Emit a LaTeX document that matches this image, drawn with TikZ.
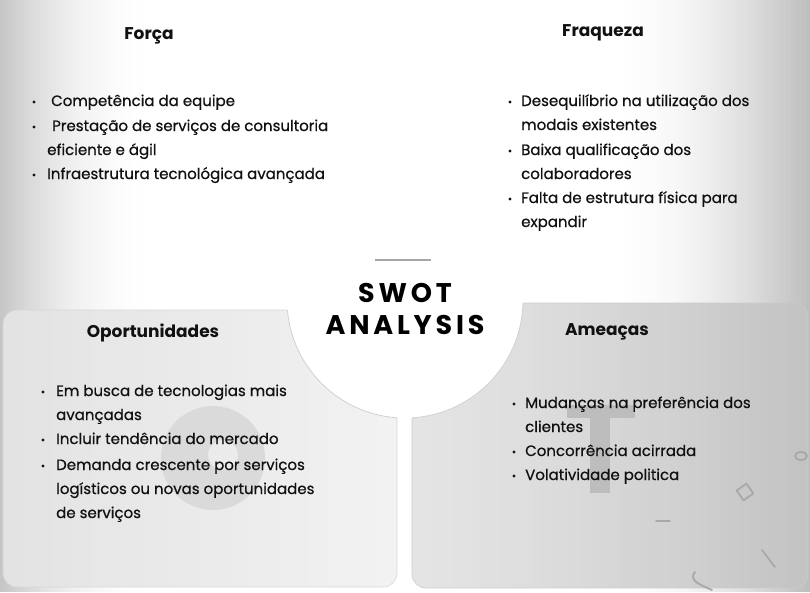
\documentclass[tikz,border=0pt]{standalone}
\usepackage{fontspec}
\setmainfont{Poppins}
\definecolor{edgegray}{HTML}{C6C6C6}
\definecolor{rightgray}{HTML}{BEBEBE}
\definecolor{lpanA}{HTML}{E3E3E3}
\definecolor{lpanB}{HTML}{F2F2F2}
\definecolor{rpanA}{HTML}{E4E4E4}
\definecolor{rpanB}{HTML}{C3C3C3}
\definecolor{wmark}{HTML}{DADADA}
\definecolor{tmark}{HTML}{BDBDBD}
\definecolor{deco}{HTML}{A8A8A8}
\definecolor{ink}{HTML}{111111}
\begin{document}
\begin{tikzpicture}[x=1pt,y=-1pt,
  txt/.style={anchor=base west, inner sep=0pt, text=ink, font=\fontsize{15}{18}\selectfont\addfontfeature{FakeBold=0.7}},
  head/.style={anchor=base, inner sep=0pt, text=ink, font=\fontsize{17}{19}\selectfont\bfseries},
  title/.style={anchor=base, inner sep=0pt, text=black, font=\fontsize{27}{30}\selectfont\bfseries\addfontfeature{LetterSpace=14}},
  dot/.style={fill=ink},
  panel/.style={rounded corners=14pt},
  decoline/.style={draw=deco, line width=1.8pt, line cap=round, line join=round}]
\useasboundingbox (0,0) rectangle (810,592);
% background
\fill[white] (0,0) rectangle (810,592);
\foreach \i in {0,...,39}{
  \pgfmathsetmacro\p{100*(1-\i/40)^2.2}
  \fill[edgegray!\p!white] (\i*4,0) rectangle (\i*4+4.5,592);
}
\foreach \i in {0,...,49}{
  \pgfmathsetmacro\p{100*(1-\i/50)^1.9}
  \fill[rightgray!\p!white] (810-\i*4-4.5,0) rectangle (810-\i*4,592);
}
% left panel
\begin{scope}
\clip[panel] (3,310) rectangle (397,587);
\foreach \i in {0,...,39}{
  \pgfmathsetmacro\p{100*\i/39}
  \fill[lpanB!\p!lpanA] (3+\i*9.85,310) rectangle (3+\i*9.85+10.5,587);
}
\end{scope}
\draw[panel, edgegray!70, line width=0.6pt] (3,310) rectangle (397,587);
% right panel
\begin{scope}
\clip[panel] (412,303) rectangle (808,588);
\foreach \i in {0,...,39}{
  \pgfmathsetmacro\p{100*(\i/39)^1.3}
  \fill[rpanB!\p!rpanA] (412+\i*9.9,303) rectangle (412+\i*9.9+10.5,588);
}
\end{scope}
\draw[panel, edgegray!90, line width=0.6pt] (412,303) rectangle (808,588);
% watermark O
\fill[wmark, even odd rule] (213,458) circle (52) (223,455) circle (15);
% watermark T
\fill[tmark] (567,405) rectangle (635,418);
\fill[tmark] (590,418) rectangle (610,493);
% decorations
\draw[decoline] (801,456) ellipse (6 and 4);
\draw[decoline, rotate around={35:(745,492)}] (739,486) rectangle (751,498);
\draw[decoline] (656,521) -- (670,521);
\draw[decoline] (762,550) -- (775,567);
\draw[decoline] (695,572) .. controls (688,580) and (700,585) .. (712,590);
% central circle
\fill[white] (405,300) circle (118);
\begin{scope}
\clip (3,310) rectangle (397,587) (412,303) rectangle (808,588);
\draw[edgegray!80, line width=0.8pt] (405,300) circle (118);
\end{scope}
\draw[gray!70, line width=1.2pt] (375,260) -- (431,260);
\node[title] (swot) at (405,302) {SWOT};
\node[title] (analysis) at (405,334) {ANALYSIS};
% Forca
\node[head] (hforca) at (149,39) {Força};
\fill[dot] (34,102) circle (1.6);
\node[txt] (f1) at (51,106) {Competência da equipe};
\fill[dot] (34,127) circle (1.6);
\node[txt] (f2) at (52,131) {Prestação de serviços de consultoria};
\node[txt] (f2b) at (47,155) {eficiente e ágil};
\fill[dot] (34,175) circle (1.6);
\node[txt] (f3) at (47,179) {Infraestrutura tecnológica avançada};
% Fraqueza
\node[head] (hfraq) at (603,36) {Fraqueza};
\fill[dot] (510,102) circle (1.6);
\node[txt] (w1) at (521,106) {Desequilíbrio na utilização dos};
\node[txt] (w1b) at (521,130) {modais existentes};
\fill[dot] (510,151) circle (1.6);
\node[txt] (w2) at (521,155) {Baixa qualificação dos};
\node[txt] (w2b) at (521,179) {colaboradores};
\fill[dot] (510,199) circle (1.6);
\node[txt] (w3) at (521,203) {Falta de estrutura física para};
\node[txt] (w3b) at (521,227) {expandir};
% Oportunidades
\node[head] (hop) at (153,337) {Oportunidades};
\fill[dot] (43,392) circle (1.6);
\node[txt] (o1) at (56,396) {Em busca de tecnologias mais};
\node[txt] (o1b) at (56,420) {avançadas};
\fill[dot] (43,440) circle (1.6);
\node[txt] (o2) at (56,444) {Incluir tendência do mercado};
\fill[dot] (43,466) circle (1.6);
\node[txt] (o3) at (56,470) {Demanda crescente por serviços};
\node[txt] (o3b) at (56,494) {logísticos ou novas oportunidades};
\node[txt] (o3c) at (56,518) {de serviços};
% Ameacas
\node[head] (ham) at (607,335) {Ameaças};
\fill[dot] (514,404) circle (1.6);
\node[txt] (t1) at (525,408) {Mudanças na preferência dos};
\node[txt] (t1b) at (525,432) {clientes};
\fill[dot] (514,452) circle (1.6);
\node[txt] (t2) at (525,456) {Concorrência acirrada};
\fill[dot] (514,476) circle (1.6);
\node[txt] (t3) at (525,480) {Volatividade politica};
\end{tikzpicture}
\end{document}
